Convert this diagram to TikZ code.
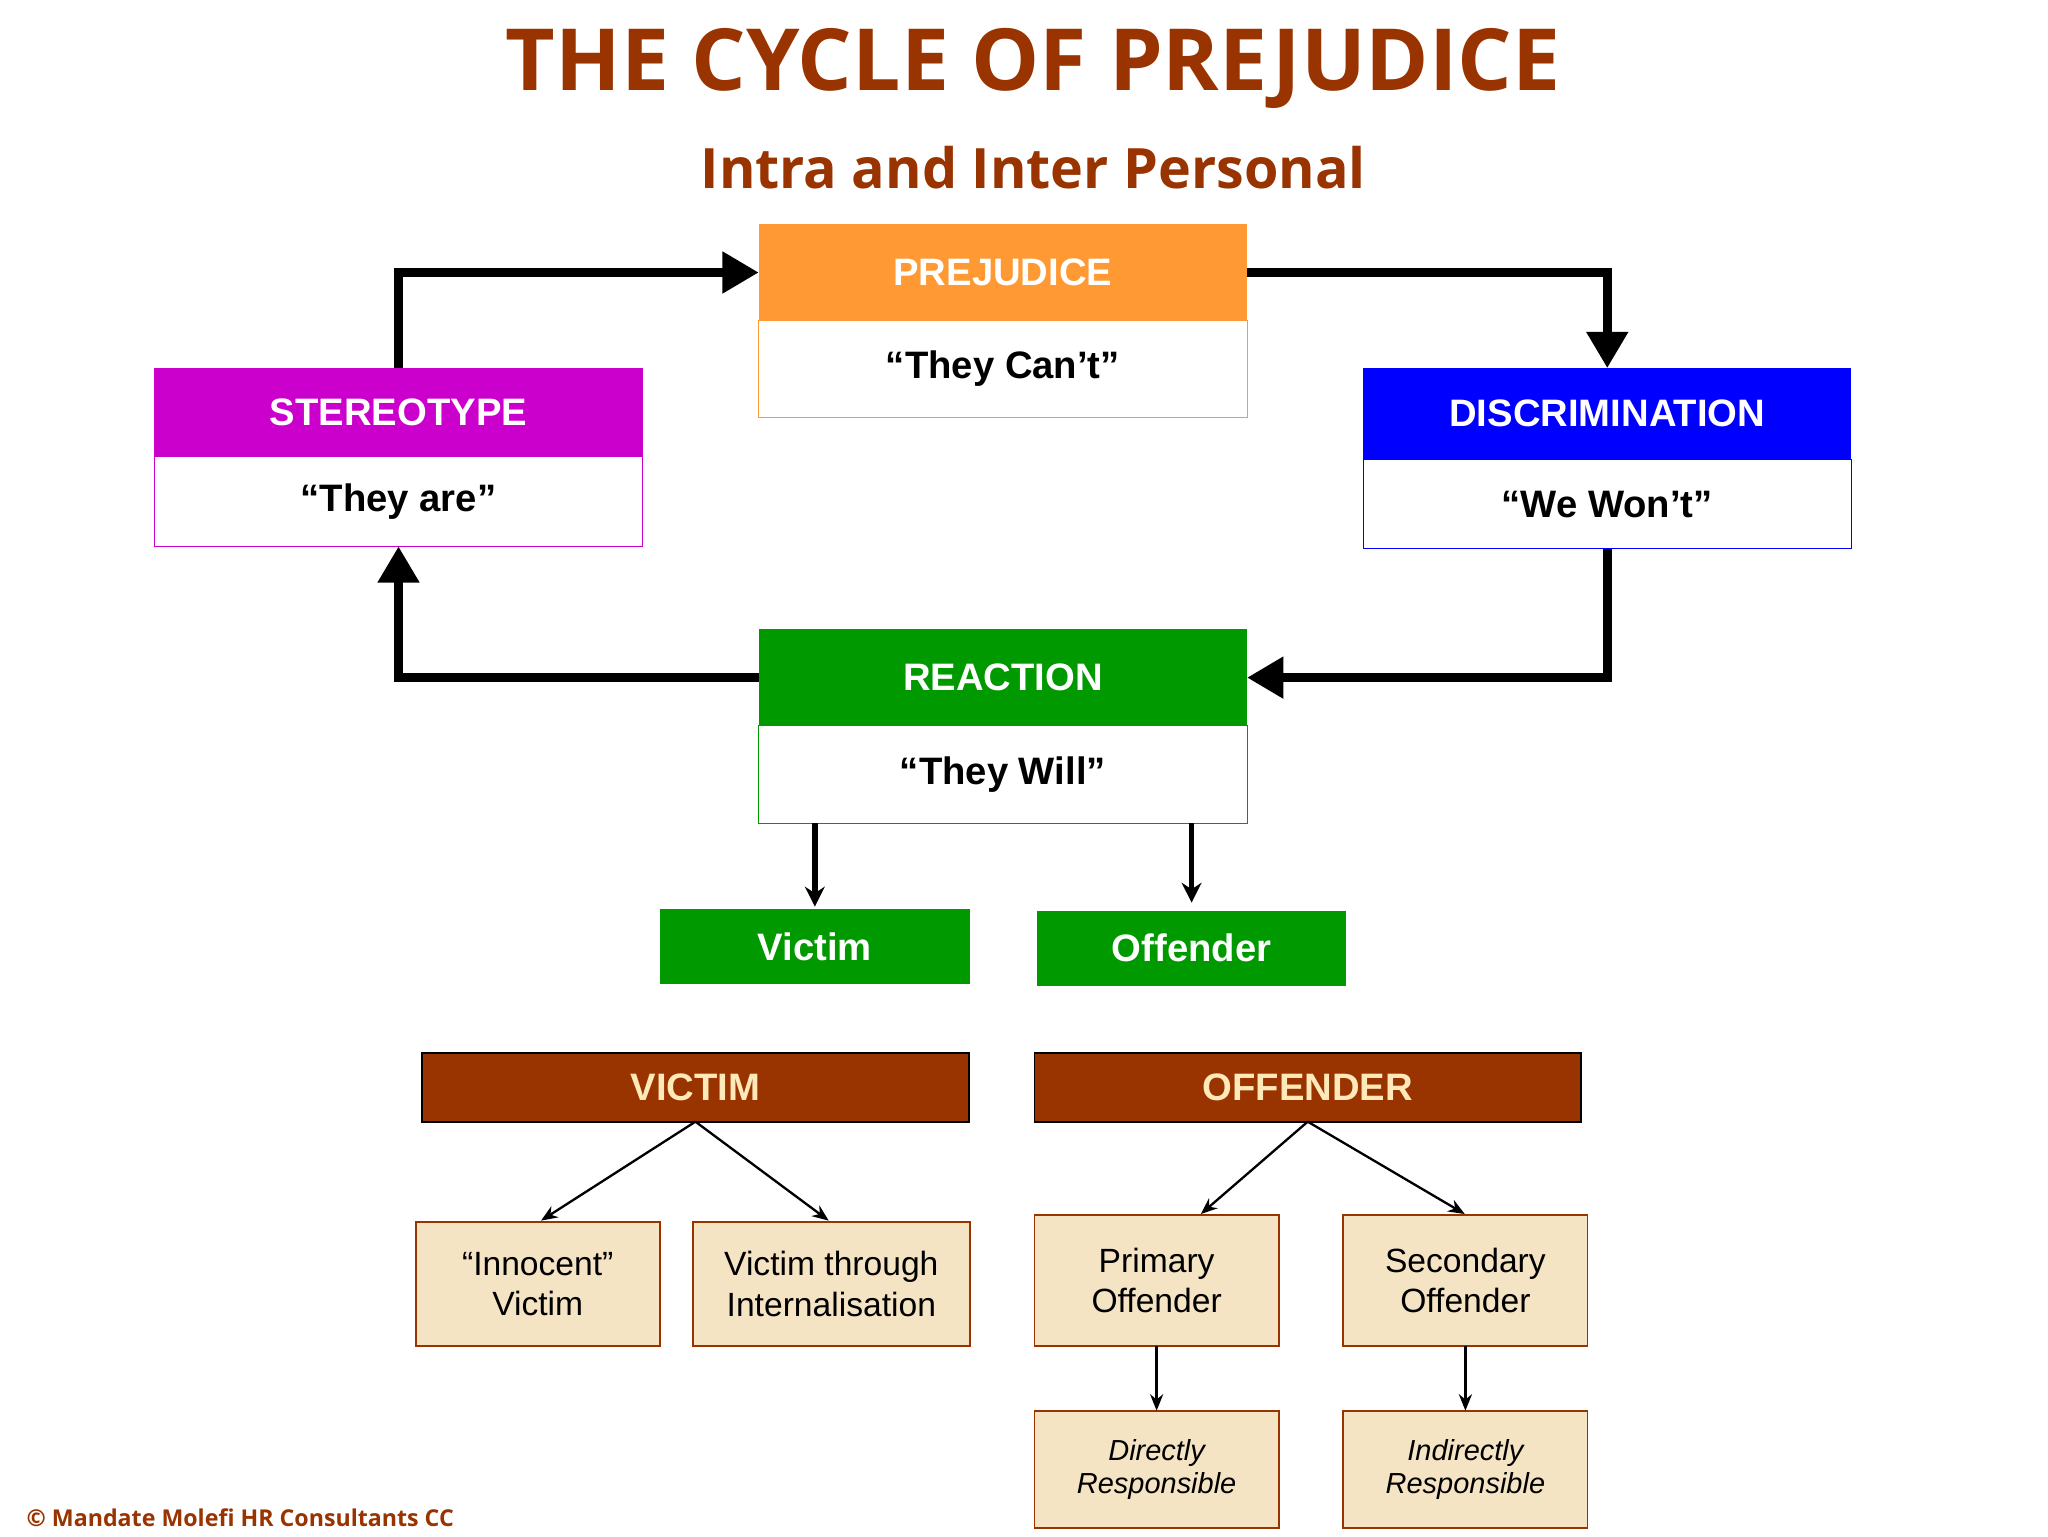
\documentclass[tikz,border=0pt]{standalone}
\usepackage{fontspec}
\setmainfont{Liberation Sans}
\newfontfamily\titlefont{Open Sans}
\usetikzlibrary{arrows.meta}
\definecolor{brn}{HTML}{993300}
\definecolor{org}{HTML}{FF9933}
\definecolor{mag}{HTML}{CC00CC}
\definecolor{grn}{HTML}{009900}
\definecolor{crm}{HTML}{F5E4C3}
\definecolor{crt}{HTML}{FFE9B8}
\begin{document}
\begin{tikzpicture}[x=0.02cm,y=-0.02cm,
 bx/.style={inner sep=0pt,outer sep=0pt},
 hd/.style={bx,text=white,font=\fontsize{16.5}{20}\selectfont\bfseries},
 bd/.style={bx,fill=white,font=\fontsize{16.5}{20}\selectfont\bfseries},
 sm/.style={bx,fill=crm,draw=brn,line width=0.8pt,align=center,font=\fontsize{14.5}{17.5}\selectfont},
 it/.style={bx,fill=crm,draw=brn,line width=0.8pt,align=center,font=\fontsize{12.5}{14.5}\selectfont\itshape},
 big/.style={line width=4pt,-{Triangle[length=0.55cm,width=0.6cm]}},
 thin/.style={line width=1pt,-{Stealth[length=0.25cm,width=0.2cm]}}]
\useasboundingbox (0,0) rectangle (1552,1164);
\node[font=\titlefont\fontsize{37}{42}\selectfont\bfseries,text=brn] (title) at (783,52) {THE CYCLE OF PREJUDICE};
\node[font=\titlefont\fontsize{24}{28}\selectfont\bfseries,text=brn] (sub) at (783,127) {Intra and Inter Personal};
% Prejudice
\node[hd,fill=org,minimum width=370*0.02cm,minimum height=73*0.02cm] (prh) at (760,206.5) {PREJUDICE};
\node[bd,draw=org,minimum width=370*0.02cm,minimum height=73*0.02cm] (prb) at (760,279.5) {“They Can’t”};
% Stereotype
\node[hd,fill=mag,minimum width=370*0.02cm,minimum height=67*0.02cm] (sth) at (302,312.5) {STEREOTYPE};
\node[bd,draw=mag,minimum width=370*0.02cm,minimum height=68*0.02cm] (stb) at (302,380) {“They are”};
% Discrimination
\node[hd,fill=blue,minimum width=370*0.02cm,minimum height=69*0.02cm] (dih) at (1218,313.5) {DISCRIMINATION};
\node[bd,draw=blue,minimum width=370*0.02cm,minimum height=68*0.02cm] (dib) at (1218,382) {“We Won’t”};
% Reaction
\node[hd,fill=grn,minimum width=370*0.02cm,minimum height=73*0.02cm] (reh) at (760,513.5) {REACTION};
\node[bd,draw=grn,minimum width=370*0.02cm,minimum height=74*0.02cm] (reb) at (760,587) {“They Will”};
% Victim / Offender
\node[hd,fill=grn,minimum width=235*0.02cm,minimum height=57*0.02cm] (vic) at (617.5,717.5) {Victim};
\node[hd,fill=grn,minimum width=234*0.02cm,minimum height=57*0.02cm] (off) at (903,718.5) {Offender};
\node[hd,fill=brn,draw=black,line width=0.8pt,text=crt,minimum width=414*0.02cm,minimum height=52*0.02cm] (VIC) at (527,824) {VICTIM};
\node[hd,fill=brn,draw=black,line width=0.8pt,text=crt,minimum width=414*0.02cm,minimum height=52*0.02cm] (OFF) at (991,824) {OFFENDER};
\node[sm,minimum width=185*0.02cm,minimum height=94*0.02cm] (inn) at (407.5,973) {“Innocent”\\Victim};
\node[sm,minimum width=210*0.02cm,minimum height=94*0.02cm] (vti) at (630,973) {Victim through\\Internalisation};
\node[sm,minimum width=185*0.02cm,minimum height=99*0.02cm] (pri) at (876.5,970.5) {Primary\\Offender};
\node[sm,minimum width=185*0.02cm,minimum height=99*0.02cm] (sec) at (1110.5,970.5) {Secondary\\Offender};
\node[it,minimum width=185*0.02cm,minimum height=89*0.02cm] (dir) at (876.5,1113.5) {Directly\\Responsible};
\node[it,minimum width=185*0.02cm,minimum height=89*0.02cm] (ind) at (1110.5,1113.5) {Indirectly\\Responsible};
\node[anchor=west,text=brn,font=\titlefont\fontsize{10}{12}\selectfont\bfseries] (copy) at (14,1150) {© Mandate Molefi HR Consultants CC};
% big arrows
\draw[big] (sth.north) |- (prh.west);
\draw[big] (prh.east) -| (dih.north);
\draw[big] (dib.south) |- (reh.east);
\draw[big] (reh.west) -| (stb.south);
% thin arrows
\draw[line width=2.5pt,-{Stealth[length=0.3cm,width=0.3cm]}] (reb.south -| vic.north) -- ([yshift=0.04cm]vic.north);
\draw[line width=2.5pt,-{Stealth[length=0.3cm,width=0.3cm]}] (reb.south -| off.north) -- ([yshift=0.12cm]off.north);
\draw[thin] (VIC.south) -- (410,925);
\draw[thin] (VIC.south) -- (628,925);
\draw[thin] (OFF.south) -- (910,920);
\draw[thin] (OFF.south) -- (1110,920);
\draw[thin] (pri.south) -- (dir.north);
\draw[thin] (sec.south) -- (ind.north);
\end{tikzpicture}
\end{document}
